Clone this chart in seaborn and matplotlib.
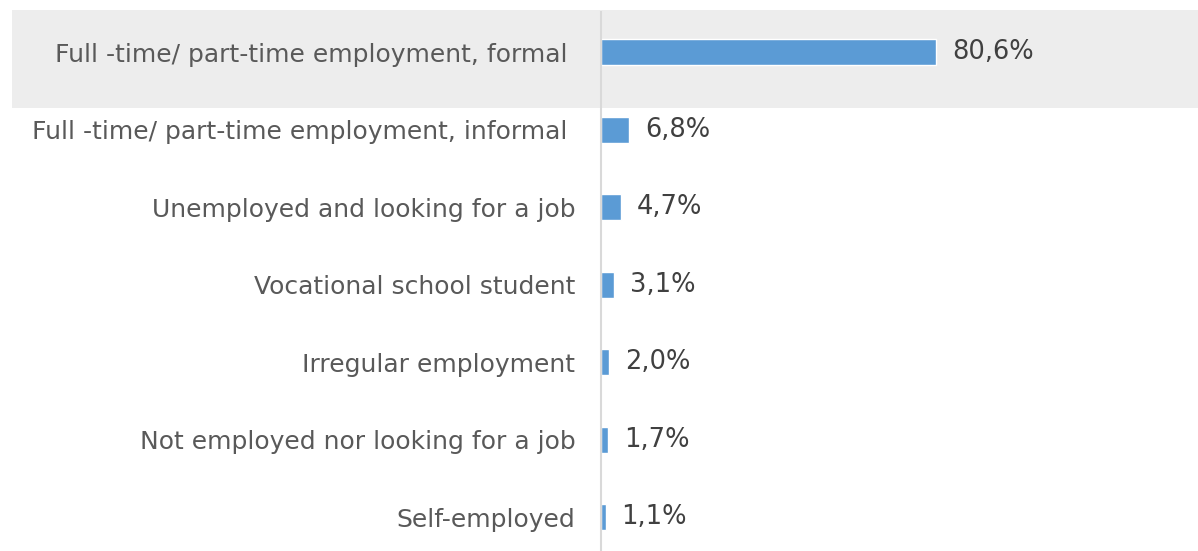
import matplotlib
matplotlib.use("Agg")
import matplotlib.pyplot as plt
import seaborn as sns
import pandas as pd
from matplotlib.patches import Rectangle

categories = [
    "Full -time/ part-time employment, formal ",
    "Full -time/ part-time employment, informal ",
    "Unemployed and looking for a job",
    "Vocational school student",
    "Irregular employment",
    "Not employed nor looking for a job",
    "Self-employed",
]
shares = [80.6, 6.8, 4.7, 3.1, 2.0, 1.7, 1.1]

df = pd.DataFrame({"status": categories, "share": shares})

sns.set_theme(style="white")
plt.rcParams["font.family"] = ["DejaVu Sans"]

W, H = 1198, 551
fig = plt.figure(figsize=(W / 100, H / 100), dpi=100)

# highlighted first row, kept behind the axes
fig.patches.append(Rectangle((12 / W, 1 - 108 / H), 1 - 12 / W, 98 / H,
                             transform=fig.transFigure, facecolor="#EDEDED",
                             edgecolor="none", zorder=-10))

ax = fig.add_axes([601 / W, 0, 1 - 601 / W, 1 - 12 / H])
ax.set_facecolor("none")

sns.barplot(data=df, x="share", y="status", orient="h", color="#5B9BD5",
            width=0.34, saturation=1, ax=ax)

ax.set_xlim(0, 143.5)
ax.set_ylim(6 + 0.435, -0.52)

labels = [f"{v:.1f}".replace(".", ",") + "%" for v in shares]
ax.bar_label(ax.containers[0], labels=labels, padding=11.5,
             fontsize=18.5, color="#404040")

ax.set_xlabel("")
ax.set_ylabel("")
ax.set_xticks([])
ax.tick_params(axis="y", length=0, pad=18.5, labelsize=18, labelcolor="#595959")

for side in ("top", "right", "bottom"):
    ax.spines[side].set_visible(False)
ax.spines["left"].set_color("#D9D9D9")
ax.spines["left"].set_linewidth(1.5)

fig.savefig("out.png", dpi=100)
